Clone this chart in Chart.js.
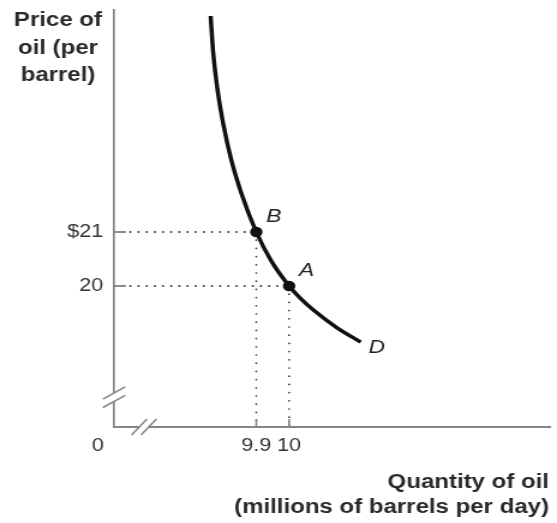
<!DOCTYPE html>
<html>
<head>
<meta charset="utf-8">
<script src="https://cdn.jsdelivr.net/npm/chart.js@4/dist/chart.umd.min.js"></script>
<style>
  html, body { margin: 0; padding: 0; background: #fff; }
</style>
</head>
<body>
<canvas id="c" width="464" height="523" style="display:block;width:557px;height:523px"></canvas>
<script>
// Demand for oil: price per barrel against quantity (millions of barrels per day)
const quantityTicks = [9.9, 10];
const quantityTickLabels = ['9.9', '10'];
const priceTicks = [20, 21];
const priceTickLabels = ['20', '$21'];

const demandQuantity = [9.761, 9.768, 9.782, 9.800, 9.824, 9.856, 9.9, 9.945, 10, 10.036, 10.073, 10.145, 10.218];
const demandPrice    = [25.0, 24.37, 23.63, 22.98, 22.33, 21.69, 21, 20.47, 20, 19.76, 19.56, 19.23, 18.96];

const pointLabels   = ['B', 'A'];
const pointQuantity = [9.9, 10];
const pointPrice    = [21, 20];
const curveLabel = 'D';

const quantityRange = [9.4667, 10.797];
const priceRange = [17.389, 25.111];

const yAxisTitle = ['Price of', 'oil (per', 'barrel)'];
const xAxisTitle = ['Quantity of oil', '(millions of barrels per day)'];
const originLabel = '0';

const FONT = '"Liberation Sans", Arial, Helvetica, sans-serif';
const AXIS_GREY = '#858585';
const INK = '#111';

const toXY = (xs, ys) => xs.map((x, i) => ({ x: x, y: ys[i] }));

const datasets = [];
// the two marked points
datasets.push({
  data: toXY(pointQuantity, pointPrice),
  showLine: false,
  pointRadius: 5.2,
  pointBackgroundColor: INK,
  pointBorderColor: INK,
  pointBorderWidth: 0
});
// demand curve
datasets.push({
  data: toXY(demandQuantity, demandPrice),
  borderColor: INK,
  borderWidth: 3.5,
  pointRadius: 0,
  cubicInterpolationMode: 'monotone',
  borderCapStyle: 'butt'
});
// dotted guides from each point to both axes
pointQuantity.forEach((q, i) => {
  const p = pointPrice[i];
  datasets.push({
    data: [{ x: quantityRange[0], y: p }, { x: q, y: p }],
    borderColor: '#3a3a3a',
    borderWidth: 2,
    borderDash: [0, 6.8],
    borderCapStyle: 'round',
    pointRadius: 0
  });
  datasets.push({
    data: [{ x: q, y: p }, { x: q, y: priceRange[0] }],
    borderColor: '#3a3a3a',
    borderWidth: 1.7,
    borderDash: [0, 8.2],
    borderCapStyle: 'round',
    pointRadius: 0
  });
});

const decorations = {
  id: 'decorations',
  afterDraw(chart) {
    const ctx = chart.ctx;
    const xs = chart.scales.x, ys = chart.scales.y;
    const area = chart.chartArea;
    const L = area.left, B = area.bottom;
    ctx.save();

    // inward tick marks
    ctx.strokeStyle = AXIS_GREY;
    ctx.lineWidth = 1.6;
    quantityTicks.forEach(v => {
      const px = xs.getPixelForValue(v);
      ctx.beginPath(); ctx.moveTo(px, B); ctx.lineTo(px, B - 8); ctx.stroke();
    });
    ctx.lineWidth = 1.8;
    priceTicks.forEach(v => {
      const py = ys.getPixelForValue(v);
      ctx.beginPath(); ctx.moveTo(L, py); ctx.lineTo(L + 10, py); ctx.stroke();
    });

    // axis break marks
    function breakMarks(c1, c2, hx, hy) {
      ctx.fillStyle = '#fff';
      ctx.beginPath();
      ctx.moveTo(c1.x - hx, c1.y + hy);
      ctx.lineTo(c1.x + hx, c1.y - hy);
      ctx.lineTo(c2.x + hx, c2.y - hy);
      ctx.lineTo(c2.x - hx, c2.y + hy);
      ctx.closePath();
      ctx.fill();
      ctx.strokeStyle = AXIS_GREY;
      ctx.lineWidth = 1.5;
      [c1, c2].forEach(c => {
        ctx.beginPath();
        ctx.moveTo(c.x - hx, c.y + hy);
        ctx.lineTo(c.x + hx, c.y - hy);
        ctx.stroke();
      });
    }
    breakMarks({ x: L, y: B - 34 }, { x: L, y: B - 25.6 }, 9.3, 6.1);
    breakMarks({ x: L + 21, y: B }, { x: L + 28.9, y: B }, 6.4, 8);

    // point and curve letters
    ctx.fillStyle = '#222';
    ctx.font = 'italic 19px ' + FONT;
    ctx.textAlign = 'center';
    ctx.textBaseline = 'middle';
    pointLabels.forEach((t, i) => {
      const px = xs.getPixelForValue(pointQuantity[i]);
      const py = ys.getPixelForValue(pointPrice[i]);
      ctx.fillText(t, px + 14.5, py - 15.5);
    });
    const n = demandQuantity.length - 1;
    ctx.fillText(curveLabel,
      xs.getPixelForValue(demandQuantity[n]) + 13.5,
      ys.getPixelForValue(demandPrice[n]) + 5.5);

    // origin label
    ctx.fillStyle = '#333';
    ctx.font = '18px ' + FONT;
    ctx.fillText(originLabel, L - 13.5, B + 19);

    // axis titles
    ctx.fillStyle = '#2a2a2a';
    ctx.font = 'bold 20px ' + FONT;
    ctx.textBaseline = 'alphabetic';
    ctx.textAlign = 'center';
    yAxisTitle.forEach((t, i) => ctx.fillText(t, 48.3, 26 + i * 27.5));
    ctx.textAlign = 'right';
    xAxisTitle.forEach((t, i) => ctx.fillText(t, area.right - 1.5, 488 + i * 25));

    ctx.restore();
  }
};

new Chart(document.getElementById('c'), {
  type: 'line',
  data: { datasets: datasets },
  options: {
    responsive: false,
    animation: false,
    events: [],
    layout: { padding: { left: 0, top: 10, right: 3, bottom: 0 } },
    plugins: { legend: { display: false }, tooltip: { enabled: false } },
    scales: {
      x: {
        type: 'linear',
        min: quantityRange[0],
        max: quantityRange[1],
        afterBuildTicks: s => { s.ticks = quantityTicks.map(v => ({ value: v })); },
        afterFit: s => { s.height = 96; s.paddingLeft = 0; s.paddingRight = 0; },
        grid: { display: false, drawTicks: false },
        border: { display: true, color: AXIS_GREY, width: 2 },
        ticks: {
          autoSkip: false,
          maxRotation: 0,
          padding: 8,
          color: '#333',
          font: { family: FONT, size: 18 },
          callback: v => quantityTickLabels[quantityTicks.indexOf(v)]
        }
      },
      y: {
        type: 'linear',
        min: priceRange[0],
        max: priceRange[1],
        afterBuildTicks: s => { s.ticks = priceTicks.map(v => ({ value: v })); },
        afterFit: s => { s.width = 95; s.paddingTop = 0; s.paddingBottom = 0; },
        grid: { display: false, drawTicks: false },
        border: { display: true, color: AXIS_GREY, width: 1.7 },
        ticks: {
          autoSkip: false,
          padding: 9,
          color: '#333',
          font: { family: FONT, size: 18 },
          callback: v => priceTickLabels[priceTicks.indexOf(v)]
        }
      }
    }
  },
  plugins: [decorations]
});
</script>
</body>
</html>
